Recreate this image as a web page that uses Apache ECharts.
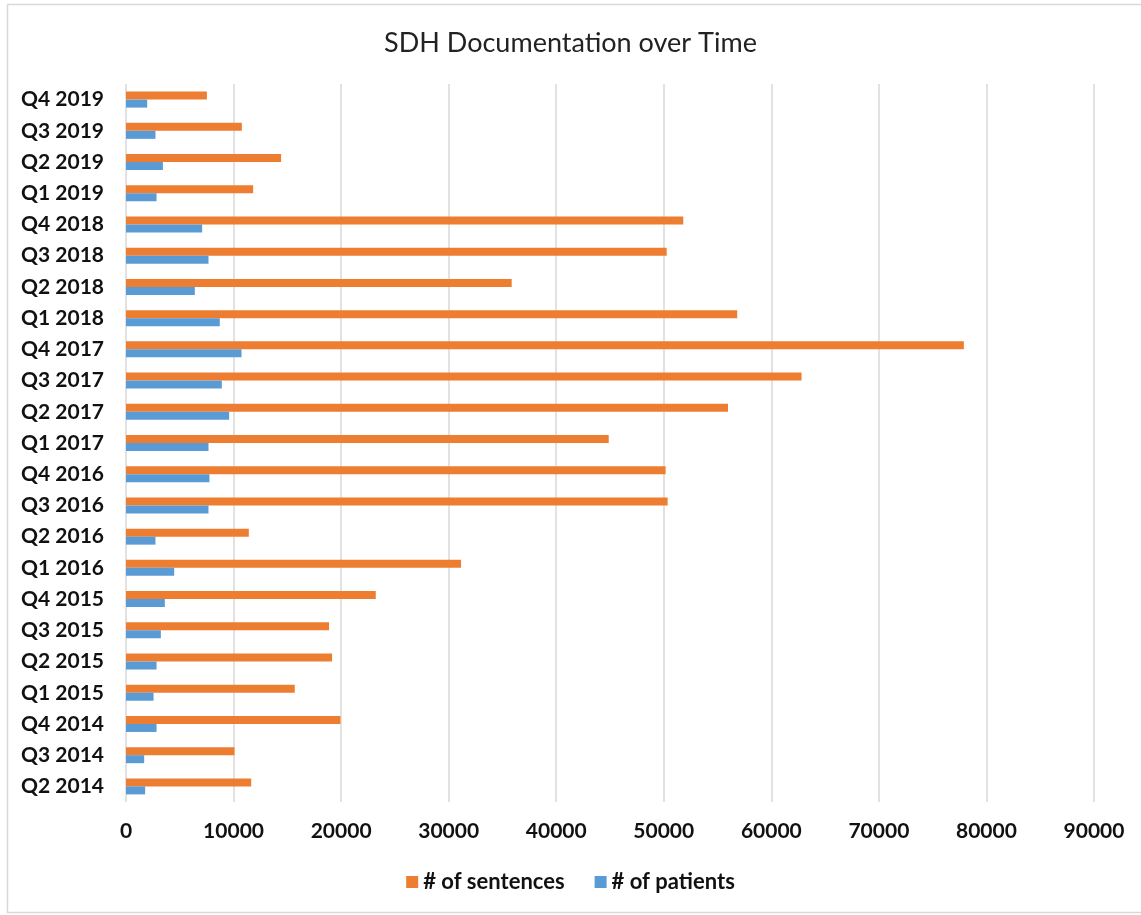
<!DOCTYPE html>
<html>
<head>
<meta charset="utf-8">
<script src="https://cdn.jsdelivr.net/npm/echarts@6/dist/echarts.min.js"></script>
<style>
  html, body { margin: 0; padding: 0; background: #fff; }
  #chart { width: 1141px; height: 915px; }
</style>
</head>
<body>
<div id="chart"></div>
<script>
// Quarters, bottom to top
const quarters = [
  'Q2 2014', 'Q3 2014', 'Q4 2014', 'Q1 2015', 'Q2 2015', 'Q3 2015', 'Q4 2015',
  'Q1 2016', 'Q2 2016', 'Q3 2016', 'Q4 2016', 'Q1 2017', 'Q2 2017', 'Q3 2017',
  'Q4 2017', 'Q1 2018', 'Q2 2018', 'Q3 2018', 'Q4 2018', 'Q1 2019', 'Q2 2019',
  'Q3 2019', 'Q4 2019'
];

const sentences = [
  11640, 10090, 19940, 15690, 19160, 18880, 23220,
  31150, 11420, 50360, 50170, 44880, 55970, 62810,
  77900, 56830, 35860, 50270, 51810, 11820, 14420,
  10770, 7520
];

const patients = [
  1780, 1690, 2840, 2560, 2840, 3240, 3610,
  4480, 2740, 7670, 7760, 7670, 9590, 8910,
  10740, 8720, 6400, 7670, 7080, 2840, 3430,
  2740, 1970
];

const xTicks = { min: 0, max: 90000, interval: 10000 };

const chart = echarts.init(document.getElementById('chart'));
const fontFamily = 'Lato, "Open Sans", sans-serif';

chart.setOption({
  animation: false,
  backgroundColor: '#fff',
  textStyle: { fontFamily },
  graphic: [{
    type: 'rect',
    shape: { x: 7.5, y: 4.5, width: 1140, height: 908 },
    style: { fill: 'none', stroke: '#d9d9d9', lineWidth: 1.5 },
    silent: true
  }],
  title: {
    text: 'SDH Documentation over Time',
    left: 'center',
    top: 25,
    textStyle: { fontFamily, fontSize: 27, fontWeight: 'normal', color: '#222' }
  },
  legend: {
    data: ['# of sentences', '# of patients'],
    bottom: 17,
    left: 'center',
    itemWidth: 12,
    itemHeight: 12,
    itemGap: 30,
    icon: 'rect',
    textStyle: { fontFamily, fontSize: 22, fontWeight: 'bold', color: '#111' }
  },
  grid: { left: 126, right: 47, top: 84, bottom: 113, containLabel: false },
  xAxis: {
    type: 'value',
    min: xTicks.min,
    max: xTicks.max,
    interval: xTicks.interval,
    axisLine: { show: false },
    axisTick: { show: false },
    axisLabel: {
      fontFamily, fontSize: 21, fontWeight: 'bold', color: '#111', margin: 19,
      formatter: (v) => String(v)
    },
    splitLine: { show: true, lineStyle: { color: '#d9d9d9', width: 1.5 } }
  },
  yAxis: {
    type: 'category',
    data: quarters,
    axisLine: { show: false },
    axisTick: { show: false },
    axisLabel: { fontFamily, fontSize: 21, fontWeight: 'bold', color: '#111', margin: 22 },
    splitLine: { show: false }
  },
  series: [
    {
      name: '# of sentences',
      type: 'bar',
      data: sentences,
      barWidth: 8,
      barGap: '0%',
      itemStyle: { color: '#ED7D31' }
    },
    {
      name: '# of patients',
      type: 'bar',
      data: patients,
      barWidth: 8,
      barGap: '0%',
      itemStyle: { color: '#5B9BD5' }
    }
  ]
});
</script>
</body>
</html>
